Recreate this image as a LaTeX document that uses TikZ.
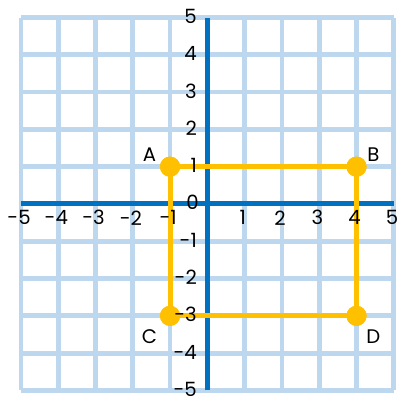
\documentclass[tikz,border=0pt]{standalone}
\usepackage{fontspec}
\setmainfont{Poppins}
\usetikzlibrary{positioning}

\definecolor{gridblue}{RGB}{189,215,238}
\definecolor{axisblue}{RGB}{0,112,192}
\definecolor{rectgold}{RGB}{255,192,0}

\tikzset{
  gridline/.style={draw=gridblue, line width=3.6pt},
  axisline/.style={draw=axisblue, line width=3.8pt},
  side/.style={draw=rectgold, line width=3.8pt},
  vertex/.style={circle, fill=rectgold, inner sep=0pt, minimum size=0.54cm},
  tick/.style={font=\fontsize{15}{17}\selectfont, inner sep=1pt},
  corner/.style={font=\fontsize{15}{17}\selectfont, inner sep=0pt}
}

\begin{document}
\begin{tikzpicture}[x=1cm, y=1cm]
    \useasboundingbox (-5.56,-5.31) rectangle (5.19,5.47);

    % grid
    \foreach \k in {-5,...,5} {
      \draw[gridline] (\k,-5) -- (\k,5);
      \draw[gridline] (-5,\k) -- (5,\k);
    }

    % axes
    \draw[axisline] (-5,0) -- (5,0);
    \draw[axisline] (0,-5) -- (0,5);

    % rectangle ABCD
    \node[vertex] (A) at (-1,1) {};
    \node[vertex] (B) at (4,1) {};
    \node[vertex] (C) at (-1,-3) {};
    \node[vertex] (D) at (4,-3) {};
    \draw[side] (A.center) -- (B.center) -- (D.center) -- (C.center) -- cycle;
    \node[vertex] at (A) {};
    \node[vertex] at (B) {};
    \node[vertex] at (C) {};
    \node[vertex] at (D) {};

    % axis numbers
    \foreach \k in {-5,...,-1,1,2,...,5} {
      \node[tick] (xl\k) at (\k-0.05,-0.37) {\k};
      \node[tick, anchor=east] (yl\k) at (-0.24,\k+0.03) {\k};
    }
    \node[tick] (orig) at (-0.4,0.05) {0};

    % corner letters
    \node[corner] (la) at (-1.55,1.33) {A};
    \node[corner] (lb) at (4.45,1.33) {B};
    \node[corner] (lc) at (-1.55,-3.55) {C};
    \node[corner] (ld) at (4.45,-3.55) {D};
\end{tikzpicture}
\end{document}
